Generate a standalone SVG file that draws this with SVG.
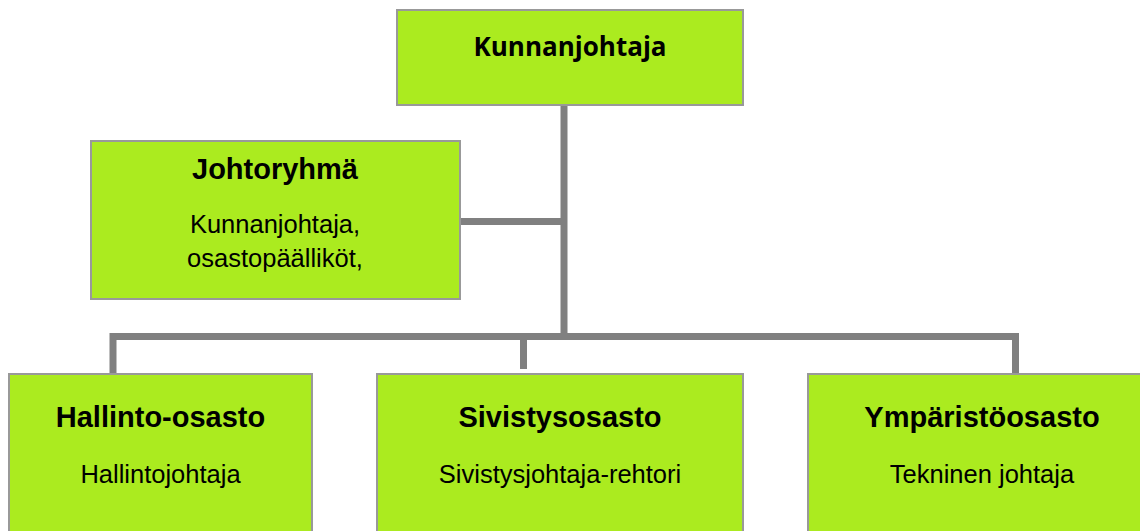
<svg xmlns="http://www.w3.org/2000/svg" width="1140" height="531" viewBox="0 0 1140 531">
<style>
.box{fill:#ABEB1F;stroke:#999999;stroke-width:2}
.conn{fill:none;stroke:#808080;stroke-width:7;stroke-linejoin:miter;stroke-linecap:butt}
.t{font-family:"Liberation Sans",Arial,sans-serif;font-weight:bold;font-size:29px;fill:#000;text-anchor:middle}
.s{font-family:"Liberation Sans",Arial,sans-serif;font-size:25.5px;fill:#000;text-anchor:middle}
.k{font-family:"Open Sans","Noto Sans",sans-serif;font-weight:bold;font-size:26px;fill:#000;text-anchor:middle}
</style>
<rect width="1140" height="531" fill="#ffffff"/>
<g id="connectors">
<path class="conn" d="M564 105 V336"/>
<path class="conn" d="M460 221.5 H564"/>
<path class="conn" d="M113 374 V336.5 H1015.5 V374"/>
<path class="conn" d="M523.5 336 V369"/>
</g>
<g id="kunnanjohtaja">
<rect class="box" x="397" y="10" width="346" height="95"/>
<text class="k" x="570" y="56">Kunnanjohtaja</text>
</g>
<g id="johtoryhma">
<rect class="box" x="91" y="141" width="369" height="158"/>
<text class="t" x="275" y="179">Johtoryhmä</text>
<text class="s" x="275" y="233">Kunnanjohtaja,</text>
<text class="s" x="275" y="267">osastopäälliköt,</text>
</g>
<g id="hallinto">
<rect class="box" x="9" y="374" width="303" height="170"/>
<text class="t" x="160.5" y="427">Hallinto-osasto</text>
<text class="s" x="160.5" y="483">Hallintojohtaja</text>
</g>
<g id="sivistys">
<rect class="box" x="377" y="374" width="366" height="170"/>
<text class="t" x="560" y="427">Sivistysosasto</text>
<text class="s" x="560" y="483">Sivistysjohtaja-rehtori</text>
</g>
<g id="ymparisto">
<rect class="box" x="808" y="374" width="350" height="170"/>
<text class="t" x="982" y="427">Ympäristöosasto</text>
<text class="s" x="982" y="483">Tekninen johtaja</text>
</g>
</svg>
